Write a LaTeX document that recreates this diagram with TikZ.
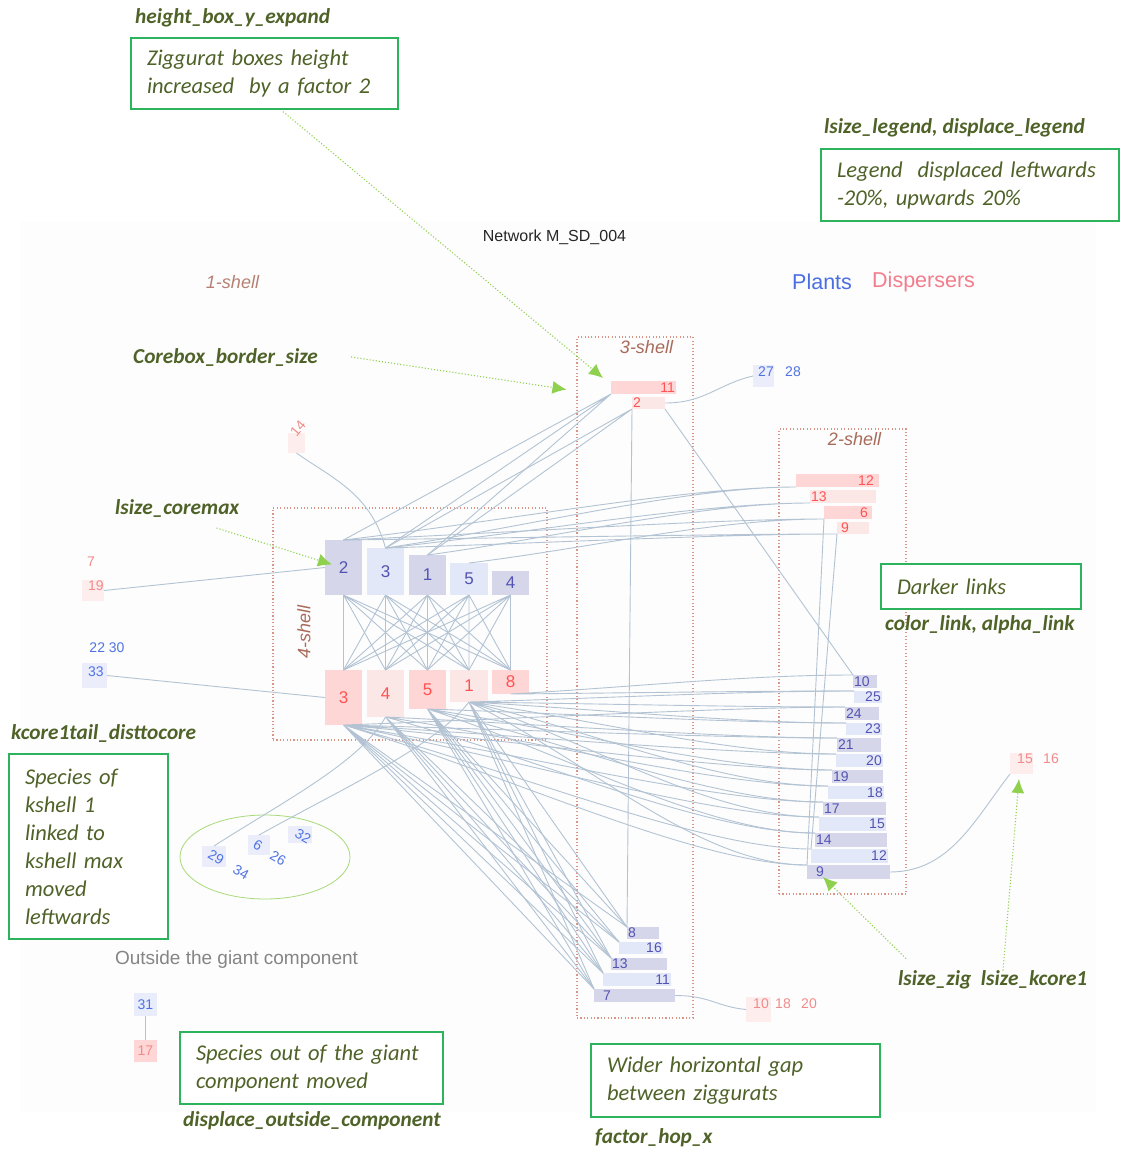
\documentclass[tikz,border=0pt]{standalone}
\usepackage{fontspec}
\setmainfont{Liberation Sans}
\newfontfamily\callfont{Carlito}
\usetikzlibrary{arrows.meta,calc,positioning}
\definecolor{ZPlantDark}{HTML}{D6D6EB}
\definecolor{ZPlantLight}{HTML}{E3E8F8}
\definecolor{ZDispDark}{HTML}{FFD6D6}
\definecolor{ZDispLight}{HTML}{FCE7E7}
\definecolor{ZPlantNum}{HTML}{5353B3}
\definecolor{ZDispNum}{HTML}{FF5252}
\definecolor{ZTailPlant}{HTML}{4F73E3}
\definecolor{ZTailDisp}{HTML}{F38A8A}
\definecolor{ZTailPlantBox}{HTML}{EBEEFA}
\definecolor{ZTailDispBox}{HTML}{FDEDED}
\definecolor{ZLink}{HTML}{B3C3D3}
\definecolor{ZShell}{HTML}{D99485}
\definecolor{ZShellText}{HTML}{A86A5A}
\definecolor{ZPanel}{HTML}{FDFDFD}
\definecolor{ZGrey}{HTML}{858585}
\definecolor{ZLegPlant}{HTML}{4A6FE3}
\definecolor{ZLegDisp}{HTML}{F27D8C}
\definecolor{NoteBorder}{HTML}{2DB35B}
\definecolor{NoteText}{HTML}{4F6228}
\definecolor{NoteArrow}{HTML}{8FD14F}
\definecolor{NoteOval}{HTML}{A9DA7A}

\tikzset{
  zbox/.style={inner sep=0pt,outer sep=0pt},
  plab/.style={inner sep=1pt,text=ZPlantNum,font=\fontsize{14}{16}\selectfont},
  dlab/.style={inner sep=1pt,text=ZDispNum,font=\fontsize{14}{16}\selectfont},
  corelab/.style={font=\fontsize{17}{19}\selectfont},
  tplab/.style={inner sep=0pt,text=ZTailPlant,font=\fontsize{14}{16}\selectfont},
  tdlab/.style={inner sep=0pt,text=ZTailDisp,font=\fontsize{14}{16}\selectfont},
  shell/.style={draw=ZShell,line width=1.1pt,dash pattern=on 1.1pt off 2.3pt,inner sep=0pt},
  shelllab/.style={text=ZShellText,font=\fontsize{18}{20}\selectfont\itshape,inner sep=0pt},
  link/.style={draw=ZLink,line width=.9pt},
  zig/.style={to path={.. controls ($(\tikztostart)!.35!(\tikztotarget)$) and ($(\tikztotarget)+(-110,0)$) .. (\tikztotarget)}},
  note/.style={draw=NoteBorder,line width=1.3pt,fill=white,align=left,inner xsep=16pt,inner ysep=0pt,text=NoteText,font=\callfont\fontsize{22.5}{28}\selectfont\itshape},
  notehead/.style={text=NoteText,inner sep=0pt,font=\callfont\fontsize{21.3}{23}\selectfont\bfseries\itshape},
  pointer/.style={draw=NoteArrow,line width=1.1pt,dotted,-{Latex[length=14pt,width=13pt]}},
}

\begin{document}
\begin{tikzpicture}[x=1pt,y=-1pt]
\path[use as bounding box] (0,0) rectangle (1120,1151);
\fill[ZPanel] (20,222) rectangle (1096,1112);

% shells
\node[shell,minimum width=274pt,minimum height=232pt] (shell4) at (410,624) {};
\node[shell,minimum width=116pt,minimum height=681pt] (shell3) at (635,677.5) {};
\node[shell,minimum width=127pt,minimum height=465pt] (shell2) at (842.5,661.5) {};
\node[shelllab,rotate=90] (shell4l) at (304,632) {4-shell};
\node[shelllab] (shell3l) at (646.5,347) {3-shell};
\node[shelllab] (shell2l) at (854.5,439) {2-shell};
\node[shelllab,text=ZShellText!85] (shell1l) at (232.5,282) {1-shell};

% title and legend
\node[inner sep=0pt,text=black!85,font=\fontsize{16}{18}\selectfont] (title) at (554.5,237) {Network M\_SD\_004};
\node[inner sep=0pt,anchor=west,text=ZLegPlant,font=\fontsize{21.5}{24}\selectfont] (legp) at (792,282) {Plants};
\node[inner sep=0pt,anchor=west,text=ZLegDisp,font=\fontsize{21.5}{24}\selectfont] (legd) at (872,282) {Dispersers};

% 4-shell core
\node[zbox,corelab,fill=ZPlantDark,text=ZPlantNum,minimum width=37pt,minimum height=55pt] (p2) at (343.5,567.5) {2};
\node[zbox,corelab,fill=ZPlantLight,text=ZPlantNum,minimum width=37pt,minimum height=47pt] (p3) at (385.5,571.5) {3};
\node[zbox,corelab,fill=ZPlantDark,text=ZPlantNum,minimum width=37pt,minimum height=40pt] (p1) at (427.5,575) {1};
\node[zbox,corelab,fill=ZPlantLight,text=ZPlantNum,minimum width=38pt,minimum height=32pt] (p5) at (469,579) {5};
\node[zbox,corelab,fill=ZPlantDark,text=ZPlantNum,minimum width=37pt,minimum height=24pt] (p4) at (510.5,583) {4};
\node[zbox,corelab,fill=ZDispDark,text=ZDispNum,minimum width=37pt,minimum height=55pt] (c3) at (343.5,697.5) {3};
\node[zbox,corelab,fill=ZDispLight,text=ZDispNum,minimum width=37pt,minimum height=47pt] (c4) at (385.5,693.5) {4};
\node[zbox,corelab,fill=ZDispDark,text=ZDispNum,minimum width=37pt,minimum height=39pt] (c5) at (427.5,689.5) {5};
\node[zbox,corelab,fill=ZDispLight,text=ZDispNum,minimum width=38pt,minimum height=32pt] (c1) at (469,686) {1};
\node[zbox,corelab,fill=ZDispDark,text=ZDispNum,minimum width=37pt,minimum height=24pt] (c8) at (510.5,682) {8};

% 3-shell dispersers
\node[zbox,fill=ZDispDark,minimum width=65pt,minimum height=13pt] (d11) at (643.5,387.5) {};
\node[dlab,anchor=east] (d11n) at (d11.east) {11};
\node[zbox,fill=ZDispLight,minimum width=33pt,minimum height=12pt] (d2) at (648.5,403) {};
\node[dlab,anchor=west] (d2n) at (d2.west) {2};

% 3-shell plants
\node[zbox,fill=ZPlantDark,minimum width=32pt,minimum height=12pt] (b8) at (643,933) {};
\node[plab,anchor=west] (b8n) at (b8.west) {8};
\node[zbox,fill=ZPlantLight,minimum width=44pt,minimum height=12pt] (b16) at (641,948) {};
\node[plab,anchor=east] (b16n) at (b16.east) {16};
\node[zbox,fill=ZPlantDark,minimum width=56pt,minimum height=12pt] (b13) at (639,964) {};
\node[plab,anchor=west] (b13n) at (b13.west) {13};
\node[zbox,fill=ZPlantLight,minimum width=68pt,minimum height=13pt] (b11) at (637,979.5) {};
\node[plab,anchor=east] (b11n) at (b11.east) {11};
\node[zbox,fill=ZPlantDark,minimum width=81pt,minimum height=13pt] (b7) at (634.5,995.5) {};
\node[plab,anchor=west,xshift=8pt] (b7n) at (b7.west) {7};

% 2-shell dispersers
\node[zbox,fill=ZDispDark,minimum width=83pt,minimum height=13pt] (d12) at (837.5,480.5) {};
\node[dlab,anchor=east,xshift=-4pt] (d12n) at (d12.east) {12};
\node[zbox,fill=ZDispLight,minimum width=66pt,minimum height=13pt] (d13) at (843,496.5) {};
\node[dlab,anchor=west] (d13n) at (d13.west) {13};
\node[zbox,fill=ZDispDark,minimum width=48pt,minimum height=13pt] (d6) at (848,512.5) {};
\node[dlab,anchor=east,xshift=-3pt] (d6n) at (d6.east) {6};
\node[zbox,fill=ZDispLight,minimum width=32pt,minimum height=12pt] (d9) at (853,528) {};
\node[dlab,anchor=west,xshift=3pt] (d9n) at (d9.west) {9};

% 2-shell plants
\node[zbox,fill=ZPlantDark,minimum width=24pt,minimum height=13pt] (z10) at (865,681.5) {};
\node[plab,anchor=west] (z10n) at (z10.west) {10};
\node[zbox,fill=ZPlantLight,minimum width=28pt,minimum height=12pt] (z25) at (868,697) {};
\node[plab,anchor=east] (z25n) at (z25.east) {25};
\node[zbox,fill=ZPlantDark,minimum width=34pt,minimum height=13pt] (z24) at (862,713.5) {};
\node[plab,anchor=west] (z24n) at (z24.west) {24};
\node[zbox,fill=ZPlantLight,minimum width=36pt,minimum height=12pt] (z23) at (864,729) {};
\node[plab,anchor=east] (z23n) at (z23.east) {23};
\node[zbox,fill=ZPlantDark,minimum width=44pt,minimum height=14pt] (z21) at (859,745) {};
\node[plab,anchor=west] (z21n) at (z21.west) {21};
\node[zbox,fill=ZPlantLight,minimum width=47pt,minimum height=13pt] (z20) at (859.5,760.5) {};
\node[plab,anchor=east] (z20n) at (z20.east) {20};
\node[zbox,fill=ZPlantDark,minimum width=51pt,minimum height=13pt] (z19) at (857.5,776.5) {};
\node[plab,anchor=west] (z19n) at (z19.west) {19};
\node[zbox,fill=ZPlantLight,minimum width=56pt,minimum height=13pt] (z18) at (856,792.5) {};
\node[plab,anchor=east] (z18n) at (z18.east) {18};
\node[zbox,fill=ZPlantDark,minimum width=63pt,minimum height=13pt] (z17) at (854.5,808.5) {};
\node[plab,anchor=west] (z17n) at (z17.west) {17};
\node[zbox,fill=ZPlantLight,minimum width=67pt,minimum height=14pt] (z15) at (852.5,824) {};
\node[plab,anchor=east] (z15n) at (z15.east) {15};
\node[zbox,fill=ZPlantDark,minimum width=72pt,minimum height=14pt] (z14) at (851,840) {};
\node[plab,anchor=west] (z14n) at (z14.west) {14};
\node[zbox,fill=ZPlantLight,minimum width=77pt,minimum height=14pt] (z12) at (849.5,856) {};
\node[plab,anchor=east] (z12n) at (z12.east) {12};
\node[zbox,fill=ZPlantDark,minimum width=83pt,minimum height=14pt] (z9) at (848.5,872) {};
\node[plab,anchor=west,xshift=8pt] (z9n) at (z9.west) {9};

% 1-shell tails
\node[zbox,fill=ZTailDispBox,minimum width=22pt,minimum height=21pt] (t19) at (93,590.5) {};
\node[tdlab] (t7n) at (91,562) {7};
\node[tdlab] (t19n) at (96,586) {19};
\node[zbox,fill=ZTailPlantBox,minimum width=25pt,minimum height=25pt] (t33) at (94.5,675.5) {};
\node[tplab] (t22n) at (107,648) {22 30};
\node[tplab] (t33n) at (96,672) {33};
\node[zbox,fill=ZTailDispBox,minimum width=17pt,minimum height=20pt] (t14) at (296.5,443) {};
\node[tdlab,rotate=50] (t14n) at (298,428) {14};
\node[zbox,fill=ZTailPlantBox,minimum width=21pt,minimum height=22pt] (t27) at (763.5,376) {};
\node[tplab] (t27n) at (766,372) {27};
\node[tplab] (t28n) at (793,372) {28};
\node[zbox,fill=ZTailDispBox,minimum width=23pt,minimum height=21pt] (t15) at (1021.5,763.5) {};
\node[tdlab] (t15n) at (1025,759) {15};
\node[tdlab] (t16n) at (1051,759) {16};
\node[zbox,fill=ZTailDispBox,minimum width=25pt,minimum height=25pt] (t10) at (758.5,1009.5) {};
\node[tdlab] (t10n) at (761,1004) {10};
\node[tdlab] (t18n) at (783,1004) {18};
\node[tdlab] (t20n) at (809,1004) {20};
\node[zbox,fill=ZTailPlantBox,minimum width=24pt,minimum height=21pt] (t29) at (214,856.5) {};
\node[zbox,fill=ZTailPlantBox,minimum width=22pt,minimum height=20pt] (t6) at (259,845) {};
\node[zbox,fill=ZTailPlantBox,minimum width=24pt,minimum height=17pt] (t32) at (300,834.5) {};
\node[tplab,rotate=-30] (t29n) at (216,857) {29};
\node[tplab,rotate=-30] (t34n) at (241,872) {34};
\node[tplab,rotate=-30] (t6n) at (258,845) {6};
\node[tplab,rotate=-30] (t26n) at (278,858) {26};
\node[tplab,rotate=-30] (t32n) at (303,836) {32};
\draw[NoteOval,line width=.8pt] (265,857) ellipse [x radius=85, y radius=42];

% outside the giant component
\node[inner sep=0pt,text=ZGrey,font=\fontsize{19}{21}\selectfont] (outl) at (236.5,960) {Outside the giant component};
\node[zbox,fill=ZPlantLight!80!ZTailPlant!40,minimum width=23pt,minimum height=23pt] (o31) at (145.5,1004.5) {};
\node[tplab] (o31n) at (o31) {31};
\node[zbox,fill=ZDispDark,minimum width=23pt,minimum height=22pt] (o17) at (145.5,1051) {};
\node[tdlab] (o17n) at (o17) {17};

% links inside the core
\draw[link] (p2.south) -- (c3.north) (p2.south) -- (c4.north) (p2.south) -- (c5.north) (p2.south) -- (c1.north) (p2.south) -- (c8.north);
\draw[link] (p3.south) -- (c3.north) (p3.south) -- (c4.north) (p3.south) -- (c5.north) (p3.south) -- (c1.north) (p3.south) -- (c8.north);
\draw[link] (p1.south) -- (c3.north) (p1.south) -- (c4.north) (p1.south) -- (c5.north) (p1.south) -- (c1.north) (p1.south) -- (c8.north);
\draw[link] (p5.south) -- (c3.north) (p5.south) -- (c4.north) (p5.south) -- (c5.north) (p5.south) -- (c1.north) (p5.south) -- (c8.north);
\draw[link] (p4.south) -- (c3.north) (p4.south) -- (c4.north) (p4.south) -- (c5.north) (p4.south) -- (c1.north) (p4.south) -- (c8.north);

% core plants to upper dispersers
\draw[link] (p2.north) -- (d11.south west) (p3.north) -- (d11.south west) (p1.north) -- (d11.south west);
\draw[link] (p3.north) -- (d2.south west) (p1.north) -- (d2.south west);
\draw[link,zig] (p2.north) to (d12.south west) (p3.north) to (d12.south west);
\draw[link,zig] (p3.north) to (d13.south west) (p1.north) to (d13.south west);
\draw[link,zig] (p2.north) to (d6.south west) (p5.north) to (d6.south west);
\draw[link,zig] (p2.north) to (d9.south west) (p3.north) to (d9.south west);

% core dispersers to 3-shell plants
\draw[link] (c3.south) -- (b8.north west) (c3.south) -- (b16.north west) (c3.south) -- (b13.north west) (c3.south) -- (b11.north west) (c3.south) -- (b7.north west);
\draw[link] (c4.south) -- (b16.north west) (c4.south) -- (b13.north west) (c4.south) -- (b11.north west) (c4.south) -- (b7.north west);
\draw[link] (c5.south) -- (b8.north west) (c5.south) -- (b16.north west) (c5.south) -- (b13.north west) (c5.south) -- (b11.north west) (c5.south) -- (b7.north west);
\draw[link] (c1.south) -- (b8.north west) (c1.south) -- (b13.north west) (c1.south) -- (b11.north west) (c1.south) -- (b7.north west);
\draw[link] (d2.south west) -- (b8.north west);

% core dispersers to 2-shell plants
\draw[link,zig] (c8.south) to (z10.north west) (c8.south) to (z25.north west);
\draw[link,zig] (c1.south) to (z25.north west) (c1.south) to (z24.north west) (c1.south) to (z23.north west) (c1.south) to (z20.north west) (c1.south) to (z18.north west) (c1.south) to (z15.north west) (c1.south) to (z9.north west);
\draw[link,zig] (c3.south) to (z24.north west) (c3.south) to (z21.north west) (c3.south) to (z20.north west) (c3.south) to (z19.north west) (c3.south) to (z17.north west) (c3.south) to (z15.north west) (c3.south) to (z12.north west) (c3.south) to (z9.north west);
\draw[link,zig] (c5.south) to (z23.north west) (c5.south) to (z19.north west) (c5.south) to (z17.north west) (c5.south) to (z14.north west);
\draw[link,zig] (c4.south) to (z21.north west) (c4.south) to (z18.north west) (c4.south) to (z14.north west);
\draw[link] (d2.south east) -- (z10.north west);
\draw[link] (d6.south west) -- (z9.north west);
\draw[link] (d9.south west) -- (z12.north west);

% tails
\draw[link] (t19.east) -- (p2.west);
\draw[link] (t33.east) -- (c3.west);
\draw[link] (t14.south) .. controls +(35,25) and +(-15,-55) .. (p3.north);
\draw[link] (t29.north) .. controls +(70,-45) and +(-25,45) .. (c4.south);
\draw[link] (t6.north) .. controls +(90,-50) and +(-35,45) .. (c1.south);
\draw[link] (d2.east) .. controls +(40,0) and +(-35,8) .. (t27.west);
\draw[link] (b7.east) .. controls +(35,0) and +(-30,-3) .. (t10.west);
\draw[link] (z9.east) .. controls +(60,0) and +(-35,45) .. (t15.south west);
\draw[link] (o31.south) -- (o17.north);

% notes
\node[notehead,anchor=west] (zighead) at (135,18) {height\_box\_y\_expand};
\node[note,text width=235pt,minimum height=71pt] (zignote) at (264.5,73.5) {Ziggurat boxes height\\increased\ \ by a factor 2};
\node[notehead,anchor=west] (leghead) at (824,128) {lsize\_legend, displace\_legend};
\node[note,text width=266pt,minimum height=72pt] (legnote) at (970,185) {Legend\ \ displaced leftwards\\-20\%, upwards 20\%};
\node[notehead,anchor=west] (corehead) at (133,357) {Corebox\_border\_size};
\node[notehead,anchor=west] (maxhead) at (115,508) {lsize\_coremax};
\node[notehead,anchor=west] (tailhead) at (11,733) {kcore1tail\_disttocore};
\node[note,text width=127pt,minimum height=185pt] (tailnote) at (88.5,846.5) {Species of\\kshell 1\\linked to\\kshell max\\moved\\leftwards};
\node[note,text width=168pt,minimum height=45pt] (linknote) at (981,586.5) {Darker links};
\node[notehead,anchor=west] (linkhead) at (885,625) {color\_link, alpha\_link};
\node[notehead,anchor=west] (sizehead) at (898,980) {lsize\_zig\ \ lsize\_kcore1};
\node[note,text width=231pt,minimum height=72pt] (outnote) at (311.5,1068) {Species out of the giant\\component moved};
\node[notehead,anchor=west] (outhead) at (183,1121) {displace\_outside\_component};
\node[note,text width=257pt,minimum height=73pt] (hopnote) at (735.5,1080.5) {Wider horizontal gap\\between ziggurats};
\node[notehead,anchor=west] (hophead) at (595,1138) {factor\_hop\_x};

% pointers
\draw[pointer] ($(zignote.south)+(18.5,2)$) -- ($(d11.north west)+(-8,-3)$);
\draw[pointer] ($(corehead.east)+(33,0)$) -- ($(shell3.west |- d11.east)+(-10,2)$);
\draw[pointer] ($(maxhead.east)+(-23,20)$) -- ($(p2.west)+(7,-3)$);
\draw[pointer] ($(sizehead.north west)+(8,-12)$) -- ($(z9.south west)+(16,-2)$);
\draw[pointer] ($(sizehead.north west)+(105,0)$) -- ($(t15.south)+(-2.5,5)$);
\end{tikzpicture}
\end{document}
